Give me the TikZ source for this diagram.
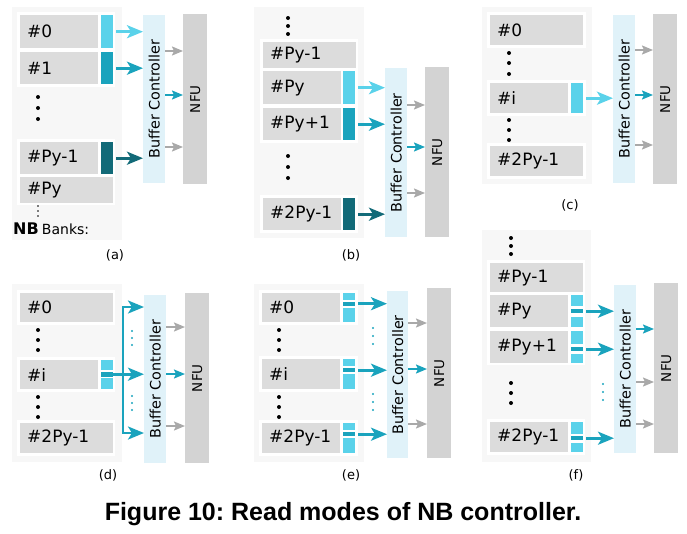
\documentclass[tikz,border=0pt]{standalone}
\usepackage{fontspec}
\setmainfont{DejaVu Sans}
\newfontfamily\capfont{Liberation Sans}
\usepackage{xcolor}
\usepackage{tikz}
\usetikzlibrary{arrows.meta,positioning,calc}
\frenchspacing

\definecolor{panelbg}{HTML}{F7F7F7}
\definecolor{bankgray}{HTML}{DCDCDC}
\definecolor{ctrlblue}{HTML}{E0F2F9}
\definecolor{nfugray}{HTML}{D3D3D3}
\definecolor{cyanL}{HTML}{5AD2EA}
\definecolor{cyanM}{HTML}{1AA3BD}
\definecolor{cyanD}{HTML}{126A78}
\definecolor{arrowgray}{HTML}{A9A9A9}

\begin{document}
\begin{tikzpicture}[
    x=1pt, y=-1pt,
    bank/.style={anchor=north west, fill=bankgray, inner xsep=7pt, inner ysep=0pt, text width=64pt, align=left, font=\fontsize{17}{20}\selectfont},
    bankwide/.style={bank, text width=79pt},
    ind/.style={anchor=north west, minimum width=12pt, inner sep=0pt},
    ctrl/.style={anchor=north west, fill=ctrlblue, minimum width=22pt, inner sep=0pt, font=\fontsize{14.4}{16}\selectfont},
    nfu/.style={anchor=north west, fill=nfugray, minimum width=24pt, inner sep=0pt, font=\fontsize{13.5}{16}\selectfont},
    sub/.style={font=\fontsize{13}{15}\selectfont},
    bighead/.tip={Stealth[length=16pt, width=13pt, inset=4pt]},
    arrow/.style={-bighead, line width=2.6pt, shorten <=3pt},
    garrow/.style={-{Stealth[length=11pt, width=9pt, inset=2pt]}, line width=1.8pt, arrowgray},
    tarrow/.style={-{Stealth[length=11pt, width=9pt, inset=2pt]}, line width=1.8pt, cyanM}
]
    \useasboundingbox (0,0) rectangle (687,533);

    % (a)
    \fill[panelbg] (12,7) rectangle (122,240);
    \fill[white] (17,12) rectangle (115,87);
    \fill[white] (17,139) rectangle (115,205);
    \node[bank, minimum height=33pt] (a-b0) at (20,15) {\#0};
    \node[ind, minimum height=33pt, fill=cyanL] (a-i0) at (101,15) {};
    \node[bank, minimum height=32pt] (a-b1) at (20,52) {\#1};
    \node[ind, minimum height=32pt, fill=cyanM] (a-i1) at (101,52) {};
    \fill (38,97) circle (2) (38,108) circle (2) (38,119) circle (2);
    \node[bank, minimum height=32pt] (a-b2) at (20,142) {\#Py-1};
    \node[ind, minimum height=32pt, fill=cyanD] (a-i2) at (101,142) {};
    \node[bankwide, minimum height=26pt] (a-b3) at (20,177) {\#Py};
    \fill (38,206) circle (0.8) (38,211) circle (0.8) (38,216) circle (0.8);
    \node[anchor=west, inner sep=0pt] (a-nb) at (13,229) {{\fontsize{16}{18}\selectfont\bfseries NB} {\fontsize{14}{16}\selectfont Banks:}};
    \node[ctrl, minimum height=168pt] (a-ctrl) at (143,15) {\rotatebox{90}{Buffer Controller}};
    \node[nfu, minimum height=170pt] (a-nfu) at (183,14) {\rotatebox{90}{NFU}};
    \draw[arrow, cyanL] (a-i0) -- (a-ctrl.west |- a-i0);
    \draw[arrow, cyanM] (a-i1) -- (a-ctrl.west |- a-i1);
    \draw[arrow, cyanD] (a-i2) -- (a-ctrl.west |- a-i2);
    \draw[garrow] (a-ctrl.east |- 0,51) -- (a-nfu.west |- 0,51);
    \draw[tarrow] (a-ctrl.east |- 0,95) -- (a-nfu.west |- 0,95);
    \draw[garrow] (a-ctrl.east |- 0,147) -- (a-nfu.west |- 0,147);
    \node[sub] (a-lbl) at (115,255) {(a)};

    % (b)
    \fill[panelbg] (254,7) rectangle (364,238);
    \fill (288,18) circle (2) (288,26) circle (2) (288,34) circle (2);
    \fill[white] (260,39) rectangle (358,143);
    \node[bankwide, minimum height=26pt] (b-b0) at (263,42) {\#Py-1};
    \node[bank, minimum height=33pt] (b-b1) at (263,71) {\#Py};
    \node[ind, minimum height=33pt, fill=cyanL] (b-i1) at (343,71) {};
    \node[bank, minimum height=32pt] (b-b2) at (263,108) {\#Py+1};
    \node[ind, minimum height=32pt, fill=cyanM] (b-i2) at (343,108) {};
    \fill (288,156) circle (2) (288,167) circle (2) (288,178) circle (2);
    \fill[white] (260,195) rectangle (358,233);
    \node[bank, minimum height=32pt] (b-b3) at (263,198) {\#2Py-1};
    \node[ind, minimum height=32pt, fill=cyanD] (b-i3) at (343,198) {};
    \node[ctrl, minimum height=169pt] (b-ctrl) at (385,68) {\rotatebox{90}{Buffer Controller}};
    \node[nfu, minimum height=170pt] (b-nfu) at (425,67) {\rotatebox{90}{NFU}};
    \draw[arrow, cyanL] (b-i1) -- (b-ctrl.west |- b-i1);
    \draw[arrow, cyanM] (b-i2) -- (b-ctrl.west |- b-i2);
    \draw[arrow, cyanD] (b-i3) -- (b-ctrl.west |- b-i3);
    \draw[garrow] (b-ctrl.east |- 0,105) -- (b-nfu.west |- 0,105);
    \draw[tarrow] (b-ctrl.east |- 0,147) -- (b-nfu.west |- 0,147);
    \draw[garrow] (b-ctrl.east |- 0,193) -- (b-nfu.west |- 0,193);
    \node[sub] (b-lbl) at (351,255) {(b)};

    % (c)
    \fill[panelbg] (482,7) rectangle (592,184);
    \fill[white] (487,12) rectangle (586,48);
    \fill[white] (487,80) rectangle (586,116);
    \fill[white] (487,143) rectangle (586,179);
    \node[bankwide, minimum height=30pt] (c-b0) at (490,15) {\#0};
    \fill (509,53) circle (2) (509,63) circle (2) (509,74) circle (2);
    \node[bank, minimum height=30pt] (c-b1) at (490,83) {\#i};
    \node[ind, minimum height=30pt, fill=cyanL] (c-i1) at (571,83) {};
    \fill (509,120) circle (2) (509,130) circle (2) (509,140) circle (2);
    \node[bankwide, minimum height=30pt] (c-b2) at (490,146) {\#2Py-1};
    \node[ctrl, minimum height=168pt] (c-ctrl) at (613,15) {\rotatebox{90}{Buffer Controller}};
    \node[nfu, minimum height=170pt] (c-nfu) at (653,14) {\rotatebox{90}{NFU}};
    \draw[arrow, cyanL] (c-i1) -- (c-ctrl.west |- c-i1);
    \draw[garrow] (c-ctrl.east |- 0,50) -- (c-nfu.west |- 0,50);
    \draw[tarrow] (c-ctrl.east |- 0,95) -- (c-nfu.west |- 0,95);
    \draw[garrow] (c-ctrl.east |- 0,145) -- (c-nfu.west |- 0,145);
    \node[sub] (c-lbl) at (570,205) {(c)};

    % (d)
    \fill[panelbg] (12,284) rectangle (122,462);
    \fill[white] (17,290) rectangle (115,325);
    \fill[white] (17,357) rectangle (115,392);
    \fill[white] (17,420) rectangle (115,456);
    \node[bankwide, minimum height=29pt] (d-b0) at (20,293) {\#0};
    \fill (38,330) circle (2) (38,340) circle (2) (38,350) circle (2);
    \node[bank, minimum height=29pt] (d-b1) at (20,360) {\#i};
    \node[ind, minimum height=10pt, fill=cyanL] (d-i1t) at (101,360) {};
    \node[ind, minimum height=5pt, fill=cyanM] (d-i1m) at (101,371.5) {};
    \node[ind, minimum height=11pt, fill=cyanL] (d-i1b) at (101,378) {};
    \fill (38,397) circle (2) (38,407) circle (2) (38,417) circle (2);
    \node[bankwide, minimum height=30pt] (d-b2) at (20,423) {\#2Py-1};
    \node[ctrl, minimum height=168pt] (d-ctrl) at (144,295) {\rotatebox{90}{Buffer Controller}};
    \node[nfu, minimum height=170pt] (d-nfu) at (185,293) {\rotatebox{90}{NFU}};
    \coordinate (d-top) at (123,307);
    \coordinate (d-bot) at (123,433);
    \draw[arrow, cyanM, shorten <=0pt] (d-i1m.west) -- (d-ctrl.west |- d-i1m);
    \draw[arrow, cyanM, shorten <=0pt, bighead-bighead, line join=miter] (d-ctrl.west |- d-top) -- (d-top) -- (d-bot) -- (d-ctrl.west |- d-bot);
    \fill[cyanM] (132,331) circle (1.1) (132,338) circle (1.1) (132,345) circle (1.1);
    \fill[cyanM] (132,396) circle (1.1) (132,403) circle (1.1) (132,410) circle (1.1);
    \draw[garrow] (d-ctrl.east |- 0,327) -- (d-nfu.west |- 0,327);
    \draw[tarrow] (d-ctrl.east |- 0,374) -- (d-nfu.west |- 0,374);
    \draw[garrow] (d-ctrl.east |- 0,426) -- (d-nfu.west |- 0,426);
    \node[sub] (d-lbl) at (108,475) {(d)};

    % (e)
    \fill[panelbg] (254,284) rectangle (364,462);
    \fill[white] (259,290) rectangle (358,325);
    \fill[white] (259,356) rectangle (358,392);
    \fill[white] (259,420) rectangle (358,456);
    \node[bank, minimum height=29pt] (e-b0) at (262,293) {\#0};
    \node[ind, minimum height=7pt, fill=cyanL] (e-i0t) at (343,293) {};
    \node[ind, minimum height=4pt, fill=cyanM] (e-i0m) at (343,301.5) {};
    \node[ind, minimum height=14pt, fill=cyanL] (e-i0b) at (343,308) {};
    \fill (279,330) circle (2) (279,340) circle (2) (279,350) circle (2);
    \node[bank, minimum height=30pt] (e-b1) at (262,359) {\#i};
    \node[ind, minimum height=7pt, fill=cyanL] (e-i1t) at (343,359) {};
    \node[ind, minimum height=4pt, fill=cyanM] (e-i1m) at (343,368) {};
    \node[ind, minimum height=15pt, fill=cyanL] (e-i1b) at (343,374) {};
    \fill (279,397) circle (2) (279,407) circle (2) (279,417) circle (2);
    \node[bank, minimum height=30pt] (e-b2) at (262,423) {\#2Py-1};
    \node[ind, minimum height=7pt, fill=cyanL] (e-i2t) at (343,423) {};
    \node[ind, minimum height=4pt, fill=cyanM] (e-i2m) at (343,432) {};
    \node[ind, minimum height=15pt, fill=cyanL] (e-i2b) at (343,438) {};
    \node[ctrl, minimum height=167pt, minimum width=21pt] (e-ctrl) at (387,291) {\rotatebox{90}{Buffer Controller}};
    \node[nfu, minimum height=170pt] (e-nfu) at (427,288) {\rotatebox{90}{NFU}};
    \draw[arrow, cyanM] (e-i0m) -- (e-ctrl.west |- e-i0m);
    \draw[arrow, cyanM] (e-i1m) -- (e-ctrl.west |- e-i1m);
    \draw[arrow, cyanM] (e-i2m) -- (e-ctrl.west |- e-i2m);
    \fill[cyanM] (373,328) circle (1.1) (373,336) circle (1.1) (373,344) circle (1.1);
    \fill[cyanM] (373,394) circle (1.1) (373,402) circle (1.1) (373,410) circle (1.1);
    \draw[garrow] (e-ctrl.east |- 0,323) -- (e-nfu.west |- 0,323);
    \draw[tarrow] (e-ctrl.east |- 0,369) -- (e-nfu.west |- 0,369);
    \draw[garrow] (e-ctrl.east |- 0,424) -- (e-nfu.west |- 0,424);
    \node[sub] (e-lbl) at (351,475) {(e)};

    % (f)
    \fill[panelbg] (482,230) rectangle (591,462);
    \fill (511,238) circle (2) (511,246) circle (2) (511,254) circle (2);
    \fill[white] (487,260) rectangle (585,365);
    \node[bankwide, minimum height=29pt] (f-b0) at (490,263) {\#Py-1};
    \node[bank, minimum height=32pt] (f-b1) at (490,295) {\#Py};
    \node[ind, minimum height=11pt, fill=cyanL] (f-i1t) at (571,295) {};
    \node[ind, minimum height=4pt, fill=cyanM] (f-i1m) at (571,309) {};
    \node[ind, minimum height=10pt, fill=cyanL] (f-i1b) at (571,317) {};
    \node[bank, minimum height=32pt] (f-b2) at (490,331) {\#Py+1};
    \node[ind, minimum height=13pt, fill=cyanL] (f-i2t) at (571,331) {};
    \node[ind, minimum height=4pt, fill=cyanM] (f-i2m) at (571,347) {};
    \node[ind, minimum height=9pt, fill=cyanL] (f-i2b) at (571,354) {};
    \fill (511,383) circle (2) (511,393) circle (2) (511,403) circle (2);
    \fill[white] (487,419) rectangle (585,455);
    \node[bank, minimum height=30pt] (f-b3) at (490,422) {\#2Py-1};
    \node[ind, minimum height=12pt, fill=cyanL] (f-i3t) at (571,422) {};
    \node[ind, minimum height=4pt, fill=cyanM] (f-i3m) at (571,436) {};
    \node[ind, minimum height=9pt, fill=cyanL] (f-i3b) at (571,443) {};
    \node[ctrl, minimum height=168pt] (f-ctrl) at (614,285) {\rotatebox{90}{Buffer Controller}};
    \node[nfu, minimum height=170pt] (f-nfu) at (654,283) {\rotatebox{90}{NFU}};
    \draw[arrow, cyanM] (f-i1m) -- (f-ctrl.west |- f-i1m);
    \draw[arrow, cyanM] (f-i2m) -- (f-ctrl.west |- f-i2m);
    \draw[arrow, cyanM] (f-i3m) -- (f-ctrl.west |- f-i3m);
    \fill[cyanM] (603,384) circle (1.1) (603,392) circle (1.1) (603,400) circle (1.1);
    \draw[tarrow] (f-ctrl.east |- 0,329) -- (f-nfu.west |- 0,329);
    \draw[garrow] (f-ctrl.east |- 0,382) -- (f-nfu.west |- 0,382);
    \draw[garrow] (f-ctrl.east |- 0,424) -- (f-nfu.west |- 0,424);
    \node[sub] (f-lbl) at (576,475) {(f)};

    \node[font=\capfont\bfseries\fontsize{25}{28}\selectfont] (caption) at (343,514) {Figure 10: Read modes of NB controller.};
\end{tikzpicture}
\end{document}
